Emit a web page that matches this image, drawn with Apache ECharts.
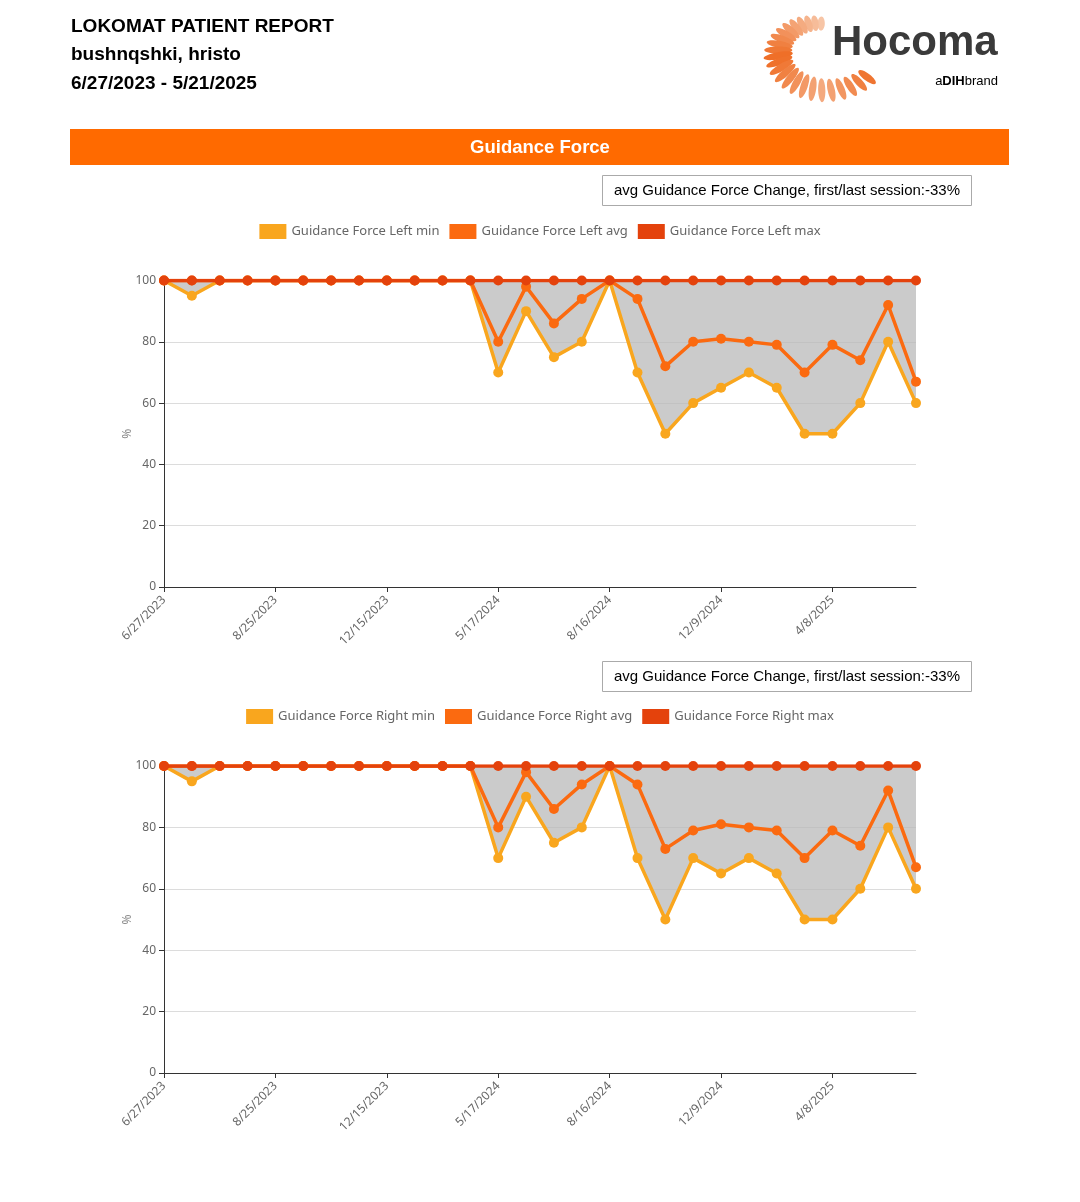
<!DOCTYPE html>
<html><head><meta charset="utf-8">
<script src="https://cdn.jsdelivr.net/npm/echarts@6/dist/echarts.min.js"></script>
<style>html,body{margin:0;padding:0;background:#fff}#c{width:1080px;height:1202px}</style>
</head><body><div id="c"></div><script>
const dates=['6/27/2023','7/11/2023','7/25/2023','8/8/2023','8/25/2023','9/15/2023','10/13/2023','11/10/2023',
'12/15/2023','1/19/2024','2/23/2024','4/5/2024','5/17/2024','6/7/2024','6/28/2024','7/19/2024',
'8/16/2024','9/13/2024','10/11/2024','11/8/2024','12/9/2024','1/10/2025','2/7/2025','3/7/2025',
'4/8/2025','4/24/2025','5/8/2025','5/21/2025'];
const leftMin=[100,95,100,100,100,100,100,100,100,100,100,100,70,90,75,80,100,70,50,60,65,70,65,50,50,60,80,60];
const leftAvg=[100,100,100,100,100,100,100,100,100,100,100,100,80,98,86,94,100,94,72,80,81,80,79,70,79,74,92,67];
const leftMax=[100,100,100,100,100,100,100,100,100,100,100,100,100,100,100,100,100,100,100,100,100,100,100,100,100,100,100,100];
const rightMin=[100,95,100,100,100,100,100,100,100,100,100,100,70,90,75,80,100,70,50,70,65,70,65,50,50,60,80,60];
const rightAvg=[100,100,100,100,100,100,100,100,100,100,100,100,80,98,86,94,100,94,73,79,81,80,79,70,79,74,92,67];
const rightMax=[100,100,100,100,100,100,100,100,100,100,100,100,100,100,100,100,100,100,100,100,100,100,100,100,100,100,100,100];
const yTicks=[0,20,40,60,80,100];
const changeText='avg Guidance Force Change, first/last session:-33%';

const C_MIN='#F9A61E', C_AVG='#FB6A10', C_MAX='#E4420C';
const chart=echarts.init(document.getElementById('c'),null,{renderer:'canvas'});

function axes(idx){
  return {
    x:{type:'category',gridIndex:idx,data:dates,boundaryGap:false,
      axisLine:{lineStyle:{color:'#333',width:1}},
      axisTick:{show:true,interval:3,lineStyle:{color:'#333'}},
      axisLabel:{interval:3,rotate:45,color:'#666',fontSize:12,fontFamily:'Noto Sans',margin:11}},
    y:{type:'value',gridIndex:idx,min:yTicks[0],max:yTicks[yTicks.length-1],interval:20,
      name:'%',nameLocation:'middle',nameGap:30,nameRotate:90,nameMoveOverlap:false,
      nameTextStyle:{color:'#888',fontSize:12,fontFamily:'Noto Sans'},
      axisLine:{show:true,lineStyle:{color:'#333'}},
      axisTick:{show:true,lineStyle:{color:'#333'}},
      axisLabel:{color:'#666',fontSize:12,fontFamily:'Noto Sans',margin:8},
      splitLine:{lineStyle:{color:'#dcdcdc'}}}
  };
}
function seriesFor(idx,mn,av,mx,names){
  const diff=mx.map((v,i)=>v-mn[i]);
  const common={type:'line',xAxisIndex:idx,yAxisIndex:idx};
  return [
    Object.assign({},common,{name:'_base'+idx,stack:'band'+idx,data:mn,symbol:'none',lineStyle:{opacity:0},silent:true,z:1}),
    Object.assign({},common,{name:'_band'+idx,stack:'band'+idx,data:diff,symbol:'none',lineStyle:{opacity:0},
      areaStyle:{color:'#b9b9b9',opacity:0.75},silent:true,z:1}),
    Object.assign({},common,{name:names[0],data:mn,symbol:'circle',symbolSize:10,color:C_MIN,
      lineStyle:{width:3.5,color:C_MIN},itemStyle:{color:C_MIN},z:3}),
    Object.assign({},common,{name:names[1],data:av,symbol:'circle',symbolSize:10,color:C_AVG,
      lineStyle:{width:3.5,color:C_AVG},itemStyle:{color:C_AVG},z:4}),
    Object.assign({},common,{name:names[2],data:mx,symbol:'circle',symbolSize:10,color:C_MAX,
      lineStyle:{width:3.5,color:C_MAX},itemStyle:{color:C_MAX},z:5})
  ];
}
const namesL=['Guidance Force Left min','Guidance Force Left avg','Guidance Force Left max'];
const namesR=['Guidance Force Right min','Guidance Force Right avg','Guidance Force Right max'];
const a0=axes(0), a1=axes(1);

// logo petals (decoration)
const petals=[];
const pcx=820, pcy=50;
const N=24;
for(let k=0;k<N;k++){
  const t=k/(N-1);
  const deg=-88 - t*235;
  const ang=deg*Math.PI/180;
  const r= t<0.45 ? 30+ t*16 : 37 + (t-0.45)*26;
  const len= t<0.45 ? 7+t*18 : 14 - (t-0.45)*6;
  const x=pcx+r*Math.cos(ang)*1.15, y=pcy+r*Math.sin(ang)*0.88;
  const inten = t<0.45 ? 0.2+t*1.7 : (t<0.8 ? Math.max(0.35, 0.97-(t-0.45)*1.6) : 0.45+(t-0.8)*2.2);
  const c0=[249,220,200], c1=[238,104,30];
  const col='rgb('+c0.map((v,i)=>Math.round(v+(c1[i]-v)*Math.min(1,inten))).join(',')+')';
  petals.push({type:'ellipse',x:x,y:y,rotation:-ang,shape:{cx:0,cy:0,rx:len,ry:3.6},style:{fill:col}});
}

const option={
  animation:false,
  backgroundColor:'#fff',
  textStyle:{fontFamily:'Noto Sans'},
  graphic:[
    {type:'text',left:71,top:17,style:{text:'LOKOMAT PATIENT REPORT',font:'bold 19px "Liberation Sans", Arial',fill:'#000'}},
    {type:'text',left:71,top:45,style:{text:'bushnqshki, hristo',font:'bold 19px "Liberation Sans", Arial',fill:'#000'}},
    {type:'text',left:71,top:74,style:{text:'6/27/2023 - 5/21/2025',font:'bold 19px "Liberation Sans", Arial',fill:'#000'}},
    {type:'group',children:petals},
    {type:'text',left:832,top:22,style:{text:'Hocoma',font:'bold 42px "Liberation Sans", Arial',fill:'#3a3a3a'}},
    {type:'text',right:82,top:75,style:{text:'{a|a}{b|DIH}{a|brand}',
      rich:{a:{font:'13px "Liberation Sans", Arial',color:'#555'},b:{font:'bold 13px "Liberation Sans", Arial',color:'#333'}}}},
    {type:'rect',shape:{x:70,y:129,width:939,height:36},style:{fill:'#FF6A00'}},
    {type:'text',x:540,y:148,style:{text:'Guidance Force',font:'bold 18.5px "Liberation Sans", Arial',fill:'#fff',textAlign:'center',textVerticalAlign:'middle'}},
    {type:'rect',shape:{x:602.5,y:175.5,width:369,height:30},style:{fill:'#fff',stroke:'#aaa',lineWidth:1}},
    {type:'text',x:787,y:191,style:{text:changeText,font:'15px "Liberation Sans", Arial',fill:'#000',textAlign:'center',textVerticalAlign:'middle'}},
    {type:'rect',shape:{x:602.5,y:661.5,width:369,height:30},style:{fill:'#fff',stroke:'#aaa',lineWidth:1}},
    {type:'text',x:787,y:677,style:{text:changeText,font:'15px "Liberation Sans", Arial',fill:'#000',textAlign:'center',textVerticalAlign:'middle'}}
  ],
  legend:[
    {data:namesL,top:219,left:'center',itemWidth:27,itemHeight:15,itemGap:10,icon:'rect',
      textStyle:{color:'#666',fontSize:13,fontFamily:'Noto Sans'}},
    {data:namesR,top:704,left:'center',itemWidth:27,itemHeight:15,itemGap:10,icon:'rect',
      textStyle:{color:'#666',fontSize:13,fontFamily:'Noto Sans'}}
  ],
  grid:[
    {left:164,top:280.5,width:752,height:306.5,containLabel:false},
    {left:164,top:766,width:752,height:307,containLabel:false}
  ],
  xAxis:[a0.x,a1.x],
  yAxis:[a0.y,a1.y],
  series:[].concat(seriesFor(0,leftMin,leftAvg,leftMax,namesL),seriesFor(1,rightMin,rightAvg,rightMax,namesR))
};
chart.setOption(option);
</script></body></html>
